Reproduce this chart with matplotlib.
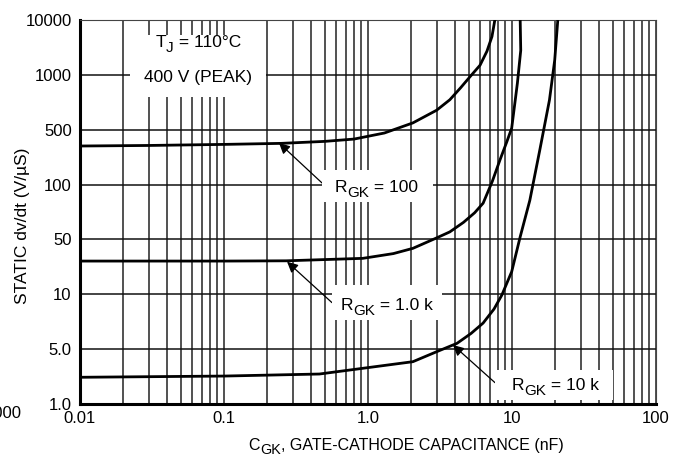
import numpy as np
import matplotlib
matplotlib.use('Agg')
import matplotlib.pyplot as plt
from matplotlib.patches import Rectangle

plt.rcParams['font.family'] = ['Liberation Sans', 'DejaVu Sans']

# y axis of the datasheet: labels evenly spaced, log between them
y_ticks = [1, 5, 10, 50, 100, 500, 1000, 10000]
y_labels = ['1.0', '5.0', '10', '50', '100', '500', '1000', '10000']
x_ticks = [0.01, 0.1, 1, 10, 100]
x_labels = ['0.01', '0.1', '1.0', '10', '100']

# R_GK = 100
c100 = [0.01, 0.03, 0.1, 0.25, 0.5, 0.8, 1.3, 2.05, 3.0, 3.7, 4.4, 5.1, 6.0, 6.7, 7.26, 7.6]
v100 = [310, 315, 325, 335, 355, 380, 454, 545, 640, 730, 850, 975, 1500, 2700, 5000, 10000]
# R_GK = 1.0 k
c1k = [0.01, 0.1, 0.27, 0.92, 1.5, 2.05, 3.0, 3.7, 4.6, 5.5, 6.3, 7.3, 8.25, 9.2, 9.95, 10.9, 11.5, 11.4]
v1k = [26.5, 26.5, 26.7, 28.7, 33, 38.5, 51, 55, 62, 70, 79, 110, 206, 350, 510, 900, 2800, 10000]
# R_GK = 10 k
c10k = [0.01, 0.1, 0.46, 0.92, 2.05, 3.0, 4.15, 5.2, 6.3, 7.5, 8.5, 9.95, 11.4, 13.3, 15.6, 18.2, 19.8, 20.8]
v10k = [2.19, 2.27, 2.41, 2.85, 3.46, 4.64, 5.38, 6.1, 6.95, 8.3, 9.9, 19.4, 51.7, 82, 276, 727, 1860, 10000]

ly = np.log10(y_ticks)
pos = np.arange(len(y_ticks))


def fwd(y):
    y = np.clip(np.asarray(y, dtype=float), 1e-3, None)
    return np.interp(np.log10(y), ly, pos, left=-1, right=len(pos))


def inv(p):
    return 10 ** np.interp(p, pos, ly)


W, H = 686, 466
fs = 12
fig = plt.figure(figsize=(W / 100, H / 100), dpi=100)
ax = fig.add_axes([80 / W, 62 / H, 576 / W, 384 / H])
ax.set_xscale('log')
ax.set_yscale('function', functions=(fwd, inv))
ax.set_xlim(0.01, 100)
ax.set_ylim(1, 10000)

ax.set_xticks(x_ticks)
ax.set_xticklabels(x_labels)
ax.set_xticks([m * d for d in [0.01, 0.1, 1, 10] for m in range(2, 10)], minor=True)
ax.set_xticklabels([], minor=True)
ax.set_yticks(y_ticks)
ax.set_yticklabels(y_labels)
ax.yaxis.set_minor_locator(matplotlib.ticker.NullLocator())
ax.tick_params(which='both', length=0, labelsize=fs, colors='black')
ax.tick_params(axis='x', pad=5)
ax.tick_params(axis='y', pad=6)
ax.grid(which='both', axis='x', color='#333333', lw=1.2)
ax.grid(which='major', axis='y', color='#111111', lw=1.1)

for s in ['left', 'bottom']:
    ax.spines[s].set_linewidth(2.2)
for s in ['top', 'right']:
    ax.spines[s].set_linewidth(0.8)
    ax.spines[s].set_color('#444444')

ax.plot(c100, v100, color='black', lw=2.0, zorder=4)
ax.plot(c1k, v1k, color='black', lw=2.0, zorder=4)
ax.plot(c10k, v10k, color='black', lw=2.0, zorder=4)

arrow = dict(arrowstyle='-|>', color='black', lw=0.9, mutation_scale=16, shrinkA=0, shrinkB=0)
ax.annotate('', xy=(0.241, 339), xytext=(0.48, 104.6), arrowprops=arrow, zorder=5)
ax.annotate('', xy=(0.274, 26.0), xytext=(0.562, 9.0), arrowprops=arrow, zorder=5)
ax.annotate('', xy=(3.89, 5.27), xytext=(7.62, 1.87), arrowprops=arrow, zorder=5)

renderer = fig.canvas.get_renderer()


def sub_text(cx, base, parts, size, mask=None):
    # parts: (text, drop in px, size scale); laid out left to right, centred on cx
    arts = []
    for s, dy, sc in parts:
        t = fig.text(0, 0, s, fontsize=size * sc, ha='left', va='baseline', zorder=6)
        arts.append((t, dy, t.get_window_extent(renderer).width))
    x = cx - sum(a[2] for a in arts) / 2
    for t, dy, w in arts:
        t.set_position((x / W, 1 - (base + dy) / H))
        x += w
    if mask is not None:
        x0, y0, x1, y1 = mask
        fig.patches.append(Rectangle((x0 / W, 1 - y1 / H), (x1 - x0) / W, (y1 - y0) / H,
                                     transform=fig.transFigure, facecolor='white',
                                     edgecolor='none', zorder=1))


ann = 12.5
sub_text(198, 47, [('T', 0, 1), ('J', 5, 0.88), (' = 110°C', 0, 1)], ann, mask=(130, 35, 266, 97))
sub_text(198, 82, [('400 V (PEAK)', 0, 1)], ann)
sub_text(376, 192, [('R', 0, 1), ('GK', 5, 0.88), (' = 100', 0, 1)], ann, mask=(322, 170, 433, 202))
sub_text(387, 310, [('R', 0, 1), ('GK', 5, 0.88), (' = 1.0 k', 0, 1)], ann, mask=(332, 285, 442, 320))
sub_text(555, 390, [('R', 0, 1), ('GK', 5, 0.88), (' = 10 k', 0, 1)], ann, mask=(495, 370, 613, 400))
sub_text(406, 450, [('C', 0, 1), ('GK', 4, 0.9), (', GATE-CATHODE CAPACITANCE (nF)', 0, 1)], 11.5)

fig.text(23 / W, 1 - 226 / H, 'STATIC dv/dt (V/µS)', rotation=90,
         ha='center', va='center', fontsize=fs + 0.5)
fig.text(22 / W, 1 - 413 / H, '1000', ha='right', va='center', fontsize=fs)

plt.savefig('out.png', dpi=100)
